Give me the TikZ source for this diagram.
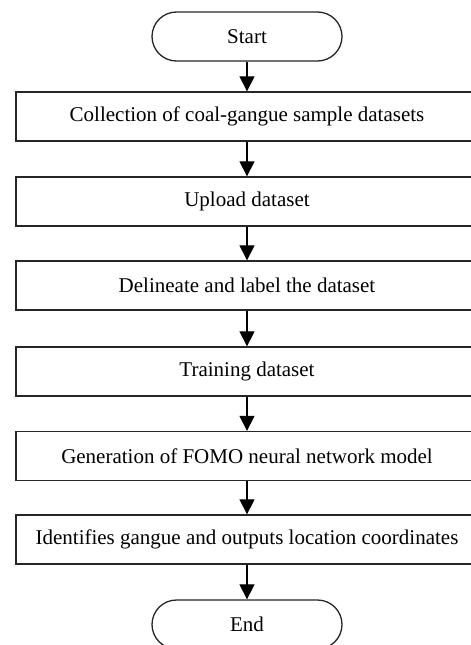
\documentclass[tikz,border=0pt]{standalone}
\usepackage{fontspec}
\setmainfont{Liberation Serif}
\usetikzlibrary{arrows.meta}
\begin{document}
\begin{tikzpicture}[x=1pt,y=-1pt,
  base/.style={draw=black!85, line width=1.3pt, font=\fontsize{21}{24}\selectfont, inner sep=0pt},
  term/.style={base, minimum width=190pt, minimum height=49pt, rounded corners=24.5pt},
  stepbox/.style={base, minimum width=462pt, minimum height=49pt},
  arr/.style={line width=1.2pt, -{Triangle[length=15pt,width=15pt]}}]
\clip (0,0) rectangle (471,645);
\useasboundingbox (0,0) rectangle (471,645);
\node[term] (start) at (247,36.5) {Start};
\node[stepbox] (b1) at (247,116.5) {Collection of coal-gangue sample datasets};
\node[stepbox] (b2) at (247,201.5) {Upload dataset};
\node[stepbox] (b3) at (247,285.5) {Delineate and label the dataset};
\node[stepbox] (b4) at (247,371.5) {Training dataset};
\node[stepbox] (b5) at (247,456) {Generation of FOMO neural network model};
\node[stepbox] (b6) at (247,539.5) {Identifies gangue and outputs location coordinates};
\node[term] (end) at (247,624.5) {End};
\draw[arr] (start) -- (b1);
\draw[arr] (b1) -- (b2);
\draw[arr] (b2) -- (b3);
\draw[arr] (b3) -- (b4);
\draw[arr] (b4) -- (b5);
\draw[arr] (b5) -- (b6);
\draw[arr] (b6) -- (end);
\end{tikzpicture}
\end{document}
